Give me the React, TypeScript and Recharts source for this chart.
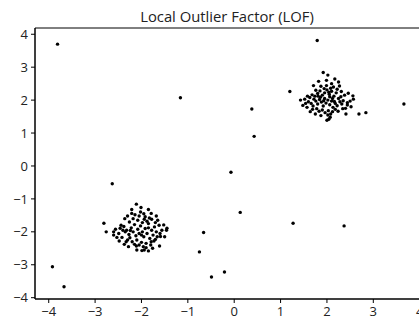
import { ScatterChart, Scatter, XAxis, YAxis, ReferenceArea } from "recharts";

// points: [x, y]
const upperCluster = [
  [1.92, 2.84], [2.02, 2.76], [1.82, 2.57], [2.17, 2.64], [2.25, 2.55], [1.71, 2.44], [1.87, 2.42],
  [1.99, 2.44], [2.14, 2.4], [2.31, 2.26], [2.46, 2.21], [2.56, 2.13], [2.57, 2.03], [2.44, 1.92],
  [2.44, 1.85], [2.34, 1.74], [2.41, 1.58], [2.24, 1.66], [1.43, 2.0], [1.52, 2.03], [1.48, 1.84],
  [1.57, 1.78], [1.64, 1.65], [1.75, 1.58], [1.87, 1.53], [2.04, 1.42], [2.07, 1.48], [2.0, 1.39],
  [1.63, 2.08], [1.68, 2.16], [1.74, 2.12], [1.8, 2.2], [1.85, 2.28], [1.9, 2.15], [1.95, 2.22],
  [2.0, 2.31], [2.05, 2.18], [2.1, 2.27], [2.15, 2.12], [2.2, 2.22], [2.25, 2.05], [2.3, 2.1],
  [2.35, 1.98], [1.6, 1.95], [1.66, 1.9], [1.7, 1.82], [1.76, 1.97], [1.8, 1.88], [1.84, 2.02],
  [1.88, 1.94], [1.92, 1.82], [1.95, 2.05], [1.98, 1.91], [2.02, 2.0], [2.06, 1.86], [2.1, 1.97],
  [2.13, 1.78], [2.18, 1.9], [2.22, 1.83], [2.28, 1.95], [2.32, 1.88], [1.78, 1.74], [1.83, 1.66],
  [1.9, 1.7], [1.96, 1.62], [2.03, 1.68], [2.08, 1.58], [2.12, 1.65], [2.18, 1.72], [1.72, 2.03],
  [1.58, 2.12], [1.94, 2.35], [2.08, 2.36], [2.22, 2.33], [1.86, 2.09], [2.12, 2.05], [2.38, 2.15],
  [2.5, 1.97], [1.54, 1.9], [2.02, 1.55], [1.99, 2.6], [2.1, 2.5], [1.76, 2.3], [2.27, 2.43],
  [2.4, 1.75], [2.06, 2.1], [1.93, 1.98], [2.16, 1.96], [1.81, 2.12], [2.69, 1.58], [2.84, 1.62],
  [2.04, 2.24], [1.69, 1.72], [2.52, 1.8],
];

const lowerCluster = [
  [-2.11, -1.16], [-2.01, -1.26], [-1.85, -1.32], [-1.79, -1.44], [-2.21, -1.32], [-2.3, -1.52],
  [-2.21, -1.44], [-1.92, -1.54], [-1.83, -1.58], [-1.7, -1.72], [-1.52, -1.79], [-1.45, -1.89],
  [-1.46, -1.95], [-1.6, -2.05], [-1.59, -2.14], [-1.7, -2.23], [-1.61, -2.43], [-1.79, -2.3],
  [-1.96, -2.45], [-1.99, -2.57], [-1.94, -2.55], [-2.11, -2.43], [-2.28, -2.45], [-2.37, -2.38],
  [-2.42, -2.17], [-2.53, -2.17], [-2.49, -2.05], [-2.6, -2.0], [-2.46, -1.89], [-2.38, -1.84],
  [-2.81, -1.74], [-2.76, -2.0], [-2.32, -1.95], [-2.27, -2.08], [-2.22, -1.88], [-2.18, -2.0],
  [-2.15, -1.78], [-2.12, -2.12], [-2.08, -1.92], [-2.05, -2.05], [-2.02, -1.82], [-1.98, -2.0],
  [-1.95, -2.15], [-1.92, -1.9], [-1.88, -2.05], [-1.85, -1.75], [-1.82, -2.2], [-1.78, -1.95],
  [-1.75, -2.1], [-1.72, -1.85], [-1.68, -2.0], [-1.65, -1.65], [-1.88, -1.68], [-1.98, -1.72],
  [-2.08, -1.65], [-2.18, -1.6], [-2.26, -1.7], [-2.35, -2.0], [-2.4, -1.95], [-2.3, -2.25],
  [-2.2, -2.3], [-2.1, -2.25], [-2.0, -2.32], [-1.9, -2.35], [-1.8, -2.4], [-2.15, -2.38],
  [-2.25, -2.18], [-2.05, -2.4], [-1.73, -2.28], [-1.66, -2.15], [-1.56, -1.95], [-1.62, -1.8],
  [-1.78, -1.62], [-1.95, -1.45], [-2.05, -1.52], [-2.14, -1.48], [-2.0, -2.1], [-1.85, -1.88],
  [-2.24, -1.96], [-2.44, -1.8], [-2.56, -1.92], [-2.33, -2.3], [-1.9, -2.48], [-2.02, -1.4],
  [-1.68, -1.52], [-1.76, -2.5], [-2.6, -2.1], [-1.5, -2.15], [-2.48, -2.28], [-2.1, -2.55],
  [-1.94, -1.62], [-2.36, -1.6], [-1.85, -2.58],
];

const outliers = [
  [-3.81, 3.7], [1.79, 3.81], [-1.16, 2.07], [1.2, 2.26], [3.66, 1.88], [0.38, 1.73], [0.43, 0.9],
  [-0.07, -0.19], [-2.63, -0.54], [0.13, -1.41], [1.27, -1.74], [2.37, -1.82], [-0.66, -2.02],
  [-0.75, -2.61], [-0.21, -3.22], [-0.49, -3.37], [-3.92, -3.06], [-3.67, -3.67],
];

const xTicks = [-4, -3, -2, -1, 0, 1, 2, 3, 4];
const yTicks = [-4, -3, -2, -1, 0, 1, 2, 3, 4];

const X_MIN = -4.296;
const X_MAX = 4.05;
const Y_MIN = -4.04;
const Y_MAX = 4.19;

const points = [...upperCluster, ...lowerCluster, ...outliers].map(([x, y]) => ({ x, y }));

const fmt = (v: number) => (v < 0 ? `\u2212${Math.abs(v)}` : String(v));
const tickStyle = { fill: "#222", fontSize: 13, fontFamily: "Open Sans" };

export default function App() {
  return (
    <div style={{ position: "absolute", left: 0, top: 0, width: 419, height: 320, overflow: "hidden", background: "#fff" }}>
      <svg width={419} height={28} style={{ position: "absolute", left: 0, top: 0 }}>
        <text x={227} y={21.5} textAnchor="middle" fontSize={14.8} fontFamily="Open Sans" fill="#222">
          Local Outlier Factor (LOF)
        </text>
      </svg>
      <ScatterChart width={422} height={320} margin={{ top: 28, right: 0, bottom: 0, left: 0 }}>
        <XAxis
          type="number"
          dataKey="x"
          domain={[X_MIN, X_MAX]}
          allowDataOverflow
          ticks={xTicks}
          interval={0}
          tickFormatter={fmt}
          height={21}
          tickSize={4}
          tickMargin={4}
          stroke="#000"
          tick={tickStyle}
        />
        <YAxis
          type="number"
          dataKey="y"
          domain={[Y_MIN, Y_MAX]}
          allowDataOverflow
          ticks={yTicks}
          interval={0}
          tickFormatter={fmt}
          width={35}
          tickSize={4}
          tickMargin={3}
          stroke="#000"
          tick={tickStyle}
        />
        <ReferenceArea x1={X_MIN} x2={X_MAX} y1={Y_MIN} y2={Y_MAX} fill="none" stroke="#000" strokeWidth={1} ifOverflow="visible" />
        <Scatter
          data={points}
          isAnimationActive={false}
          shape={(p: any) => <circle cx={p.cx} cy={p.cy} r={1.7} fill="#000" />}
        />
      </ScatterChart>
    </div>
  );
}
